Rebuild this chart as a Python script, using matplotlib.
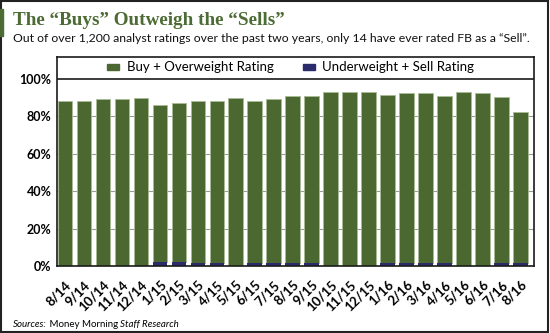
import matplotlib
matplotlib.use('Agg')
import matplotlib.pyplot as plt
from matplotlib.patches import Rectangle
import numpy as np

months = ['8/14', '9/14', '10/14', '11/14', '12/14', '1/15', '2/15', '3/15', '4/15', '5/15',
          '6/15', '7/15', '8/15', '9/15', '10/15', '11/15', '12/15', '1/16', '2/16', '3/16',
          '4/16', '5/16', '6/16', '7/16', '8/16']
# share of ratings (%)
sell = [0, 0, 0, 0, 0, 2.3, 2.3, 1.8, 1.8, 0,
        1.8, 1.8, 1.8, 1.8, 0, 0, 0, 1.8, 1.8, 1.8,
        1.8, 0, 0, 1.8, 1.8]
total = [88, 88, 89, 89, 90, 86.2, 87.3, 88, 88, 90,
         88, 89, 91, 91, 93.2, 93.2, 93.2, 91.6, 92.3, 92.3,
         91.1, 93.2, 92.3, 90.2, 82.2]
buy = [t - s for t, s in zip(total, sell)]

green = '#4a6830'
navy = '#2b2a6b'
font = 'Lato'

fig = plt.figure(figsize=(5.5, 3.33), dpi=100)
ax = fig.add_axes([57 / 550, 1 - 266 / 333, 477 / 550, 209 / 333])

x = np.arange(len(months))
ax.bar(x, buy, bottom=sell, width=0.77, color=green, edgecolor='#a9bc95', linewidth=0.6, zorder=3)
ax.bar(x, sell, width=0.77, color=navy, zorder=4)

ax.set_ylim(0, 111.7)
ax.set_xlim(-0.42, 24.71)
ax.set_yticks([0, 20, 40, 60, 80, 100])
ax.set_yticklabels([f'{v}%' for v in [0, 20, 40, 60, 80, 100]], fontfamily=font,
                   fontweight='bold', fontsize=9)
ax.set_xticks(x)
ax.set_xticklabels(months, rotation=45, ha='right', rotation_mode='anchor',
                   fontfamily=font, fontweight='bold', fontsize=9.5)
ax.tick_params(axis='y', length=0, pad=4)
ax.tick_params(axis='x', length=0, pad=9)
for v in [20, 40, 60, 80]:
    ax.axhline(v, color='#999999', lw=0.8, zorder=1)
ax.axhline(100, color='#1a1a1a', lw=1.2, zorder=5)
for s in ax.spines.values():
    s.set_color('#1a1a1a')
    s.set_linewidth(1.2)
    s.set_zorder(6)

h1 = Rectangle((0, 0), 1, 1, color=green)
h2 = Rectangle((0, 0), 1, 1, color=navy)
ax.legend([h1, h2], ['Buy + Overweight Rating', 'Underweight + Sell Rating'],
          loc='center', bbox_to_anchor=(0.49, 0.95), ncol=2, frameon=False,
          handlelength=0.9, handleheight=0.35, handletextpad=0.6, columnspacing=2.2,
          prop={'family': font, 'size': 9.5})

fig.text(13 / 550, 1 - 25 / 333, 'The \u201cBuys\u201d Outweigh the \u201cSells\u201d',
         fontfamily='Liberation Serif', fontweight='bold', fontsize=13.8, color='#4d6b34',
         va='baseline')
fig.text(13 / 550, 1 - 42 / 333,
         'Out of over 1,200 analyst ratings over the past two years, only 14 have ever rated FB as a \u201cSell\u201d.',
         fontfamily=font, fontsize=8.8, color='#111111', va='baseline')

t1 = fig.text(13 / 550, 1 - 327 / 333, 'Sources:', fontfamily=font, fontstyle='italic',
              fontsize=7, va='baseline')
a2 = ax.annotate(' Money Morning ', xy=(1, 0), xycoords=t1, fontfamily=font, fontsize=7,
                 va='bottom', annotation_clip=False)
ax.annotate('Staff Research', xy=(1, 0), xycoords=a2, fontfamily=font, fontstyle='italic',
            fontsize=7, va='bottom', annotation_clip=False)

fig.patches.append(Rectangle((0.002, 0.003), 0.995, 0.994, transform=fig.transFigure,
                             fill=False, edgecolor='#222222', lw=1.5))
fig.patches.append(Rectangle((0, 1 - 36 / 333), 3 / 550, 27 / 333, transform=fig.transFigure,
                             color='#4d6b34'))

fig.savefig('out.png', dpi=100)
